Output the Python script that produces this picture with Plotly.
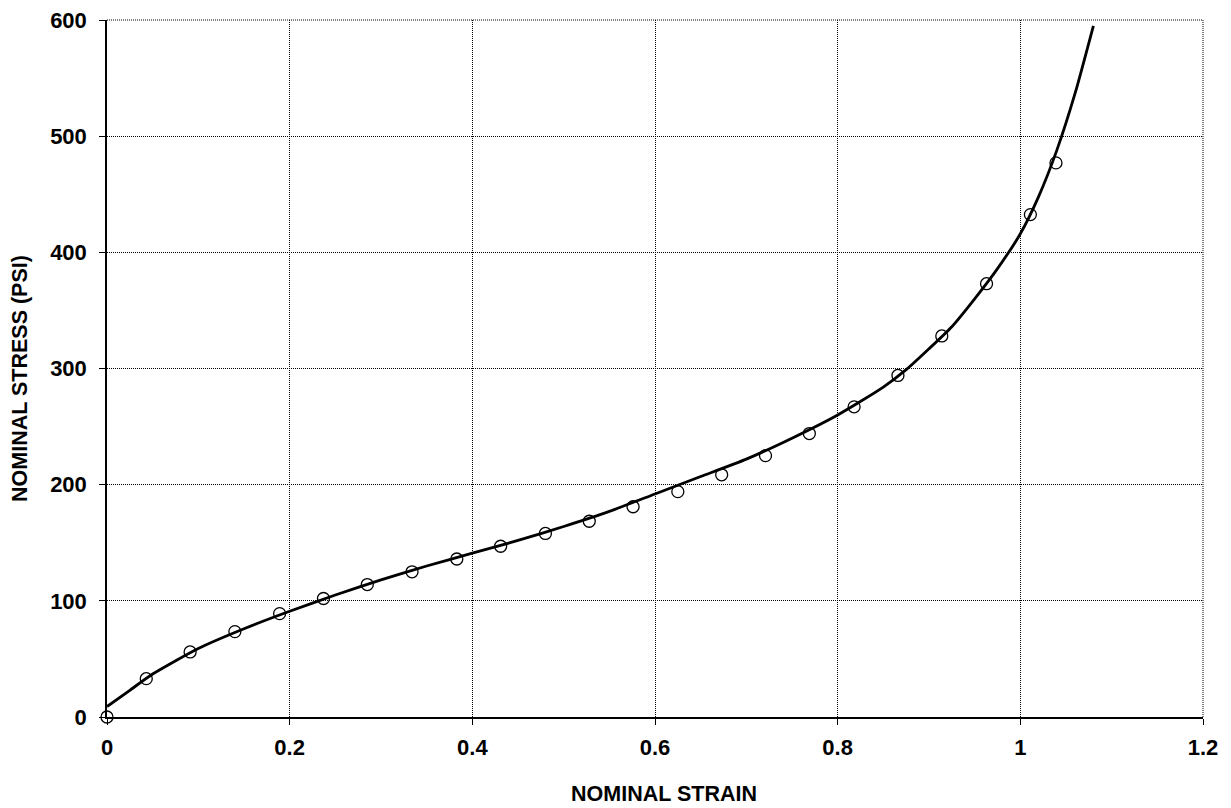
import plotly.graph_objects as go

# Measured data points (open circles)
strain_pts = [0.0, 0.043, 0.091, 0.140, 0.189, 0.237, 0.285, 0.334, 0.383, 0.431,
              0.480, 0.528, 0.576, 0.625, 0.673, 0.721, 0.769, 0.818, 0.866, 0.914,
              0.963, 1.011, 1.039]
stress_pts = [0, 33, 56, 73.5, 89, 102, 114, 125, 136, 147,
              158, 168.5, 181, 194, 208.5, 225, 244, 267, 294, 328,
              373, 432.5, 477]

# Fitted curve (solid line)
strain_fit = [0.0, 0.025, 0.05, 0.10, 0.15, 0.20, 0.25, 0.30, 0.35, 0.40,
              0.45, 0.50, 0.55, 0.60, 0.65, 0.70, 0.75, 0.80, 0.85, 0.875,
              0.90, 0.925, 0.95, 0.975, 1.00, 1.02, 1.04, 1.06, 1.08]
stress_fit = [9, 23, 37, 59, 76, 91, 105, 118, 130, 141,
              152, 164, 177, 192, 207, 222, 240, 260, 284, 299,
              317, 336, 360, 386, 416, 448, 488, 537, 595]

x_ticks = [0, 0.2, 0.4, 0.6, 0.8, 1.0, 1.2]
x_tick_labels = ["0", "0.2", "0.4", "0.6", "0.8", "1", "1.2"]
y_ticks = [0, 100, 200, 300, 400, 500, 600]

font_family = "Liberation Sans, Arial, sans-serif"
grid_dash = "1px,1px"

fig = go.Figure()
fig.add_trace(go.Scatter(
    x=strain_pts, y=stress_pts, mode="markers",
    marker=dict(symbol="circle-open", size=12, color="black", line=dict(width=1.3, color="black")),
    cliponaxis=False, showlegend=False,
))
fig.add_trace(go.Scatter(
    x=strain_fit, y=stress_fit, mode="lines",
    line=dict(color="black", width=2.8, shape="spline", smoothing=0.6),
    cliponaxis=False, showlegend=False,
))

axis_common = dict(
    automargin=False,
    showline=True, linecolor="black", linewidth=1.5,
    ticks="outside", ticklen=6, tickwidth=1.2, tickcolor="black",
    showgrid=True, gridcolor="black", griddash=grid_dash, gridwidth=1,
    zeroline=False,
    tickfont=dict(size=22, family=font_family, color="black", weight="bold"),
)

fig.update_layout(
    width=1231, height=808,
    margin=dict(l=107, r=28, t=20, b=91),
    paper_bgcolor="white", plot_bgcolor="white",
    font=dict(family=font_family, color="black"),
    xaxis=dict(range=[0, 1.2], tickvals=x_ticks, ticktext=x_tick_labels,
               ticklabelstandoff=4, **axis_common),
    yaxis=dict(range=[0, 600], tickvals=y_ticks,
               ticklabelstandoff=8, **axis_common),
    shapes=[
        # dotted grid lines along the top and right edges of the plot area
        dict(type="line", xref="paper", yref="paper", x0=0, x1=1, y0=1, y1=1,
             line=dict(color="black", width=1, dash=grid_dash), layer="below"),
        dict(type="line", xref="paper", yref="paper", x0=1, x1=1, y0=0, y1=1,
             line=dict(color="black", width=1, dash=grid_dash), layer="below"),
    ],
    annotations=[
        dict(text="<b>NOMINAL STRAIN</b>", xref="paper", yref="paper",
             x=0.5078, y=-0.1105, xanchor="center", yanchor="middle",
             showarrow=False, font=dict(size=21.5, family=font_family, color="black")),
        dict(text="<b>NOMINAL STRESS (PSI)</b>", xref="paper", yref="paper",
             x=-0.0794, y=0.4864, xanchor="center", yanchor="middle", textangle=-90,
             showarrow=False, font=dict(size=21.5, family=font_family, color="black")),
    ],
)

fig.write_html(
    "out.html",
    config={"displayModeBar": False},
    post_script="document.body.style.margin='0';document.body.style.overflow='hidden';",
)
